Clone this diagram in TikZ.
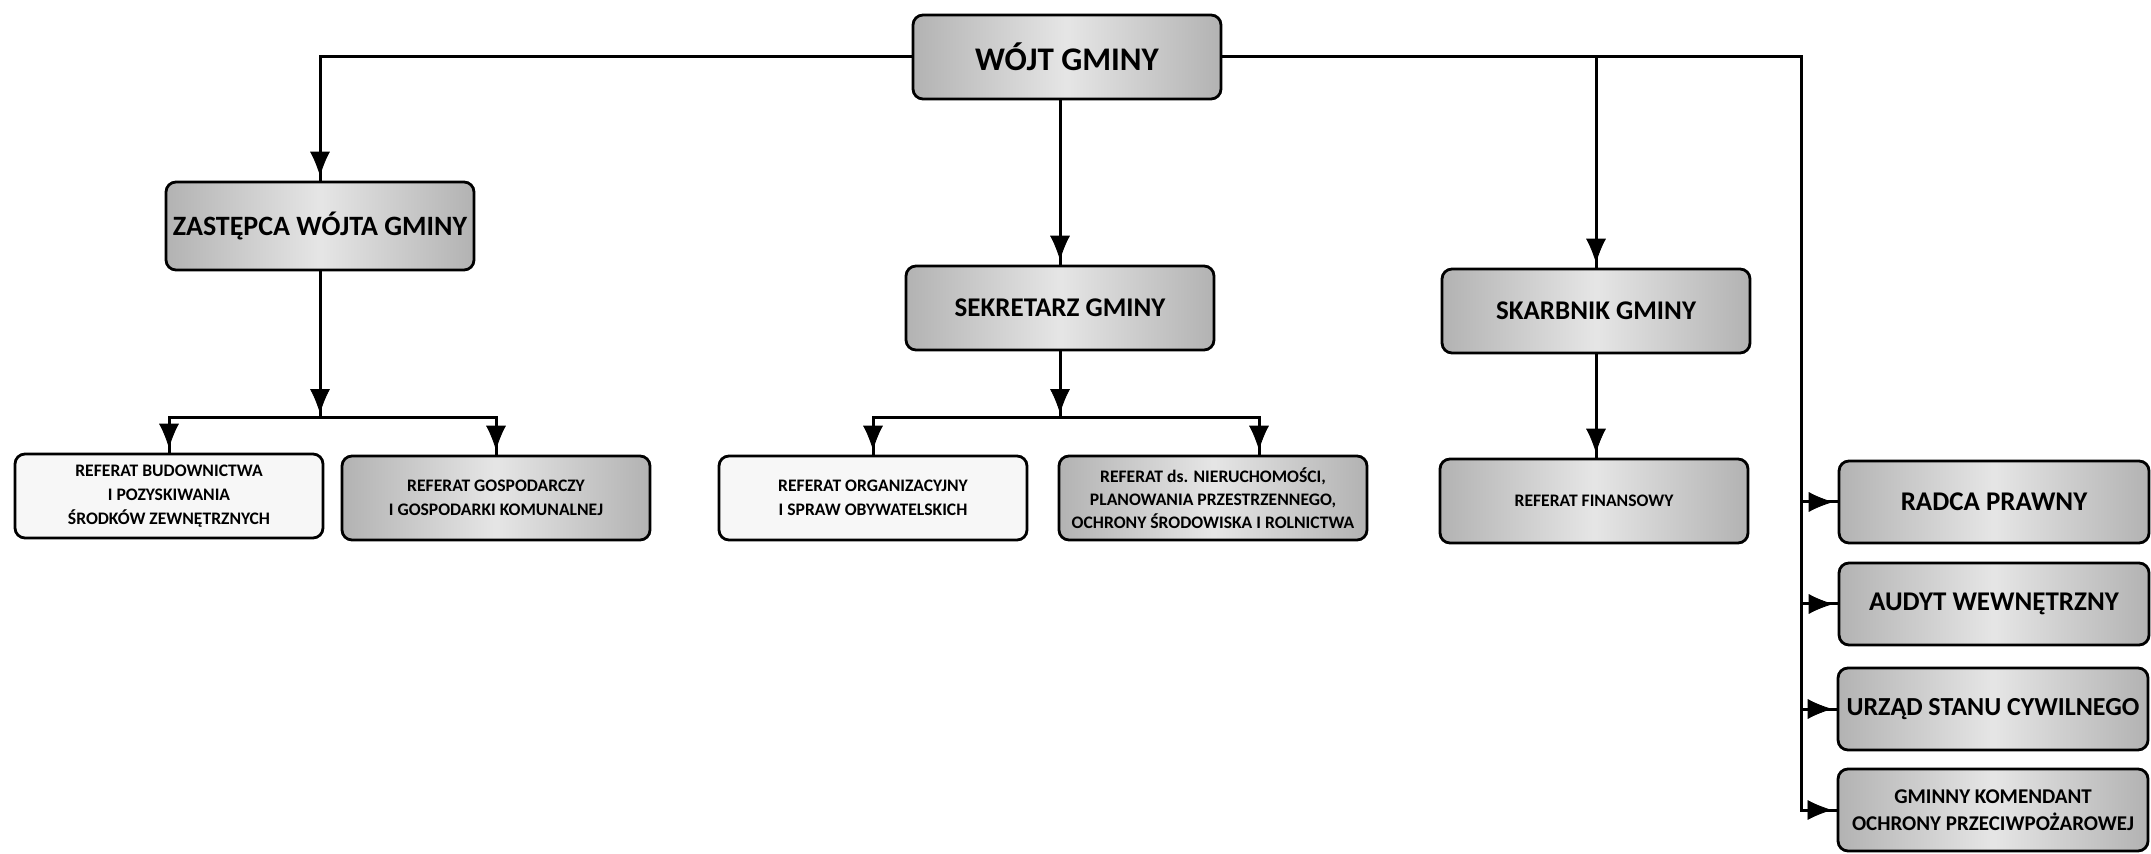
\documentclass[tikz,border=0pt]{standalone}
\usepackage{fontspec}
\setmainfont{Carlito}
\usetikzlibrary{positioning, calc, arrows.meta, decorations.markings}
\tikzstyle{Arrow} = [
line width=1.5pt,
decoration={
markings,
mark=at position 0.9999 with {
\arrow{Latex[length=15pt, width=12pt]}}},
preaction = {decorate}]
\tikzstyle{Box} = [draw, line width=1.4pt, rounded corners=5pt,
minimum width=154pt, minimum height=42pt, align=center, inner sep=1pt]
\tikzstyle{Gray} = [Box, left color=gray!60, right color=gray!60, middle color=gray!20]
\tikzstyle{Light} = [Box, fill=gray!6]
\tikzstyle{Side} = [Gray, minimum width=155pt, minimum height=41pt]
\newcommand{\bigtxt}{\bfseries\fontsize{13.5}{16}\selectfont}
\newcommand{\smalltxt}{\bfseries\fontsize{8.8}{12}\selectfont}

\begin{document}
\begin{tikzpicture}[x=0.5pt, y=-0.5pt]
    \useasboundingbox (0,0) rectangle (2151,854);

    \node [Gray, font=\bfseries\fontsize{16.5}{20}\selectfont] (1) at (1067,57) {WÓJT GMINY};
    \node [Gray, minimum height=44pt, font=\bfseries\fontsize{14}{16}\selectfont] (2) at (320,226) {ZASTĘPCA WÓJTA GMINY};
    \node [Gray, font=\bigtxt] (3) at (1060,308) {SEKRETARZ GMINY};
    \node [Gray, font=\bigtxt] (4) at (1596,311) {SKARBNIK GMINY};

    \node [Light, font=\smalltxt] (5) at (169,496) {REFERAT BUDOWNICTWA\\I POZYSKIWANIA\\ŚRODKÓW ZEWNĘTRZNYCH};
    \node [Gray, font=\smalltxt] (6) at (496,498) {REFERAT GOSPODARCZY\\I GOSPODARKI KOMUNALNEJ};
    \node [Light, font=\smalltxt] (7) at (873,498) {REFERAT ORGANIZACYJNY\\I SPRAW OBYWATELSKICH};
    \node [Gray, font=\bfseries\fontsize{8.8}{11.5}\selectfont] (8) at (1213,498) {REFERAT ds. NIERUCHOMOŚCI,\\PLANOWANIA PRZESTRZENNEGO,\\OCHRONY ŚRODOWISKA I ROLNICTWA};
    \node [Gray, font=\smalltxt] (9) at (1594,501) {REFERAT FINANSOWY};

    \node [Side, font=\bigtxt] (10) at (1994,502) {RADCA PRAWNY};
    \node [Side, font=\bigtxt] (11) at (1994,604) {AUDYT WEWNĘTRZNY};
    \node [Side, inner sep=0pt, font=\bfseries\fontsize{13}{16}\selectfont] (12) at (1993,709) {URZĄD STANU CYWILNEGO};
    \node [Side, font=\bfseries\fontsize{10.5}{13.5}\selectfont] (13) at (1993,810) {GMINNY KOMENDANT\\OCHRONY PRZECIWPOŻAROWEJ};

    \coordinate (14) at (320,418);
    \coordinate (15) at (1060,418);
    \coordinate (16) at (1801,57);

    \draw[Arrow] (1.west) -| (2.north);
    \draw[Arrow] (3.north |- 1.south) -- (3.north);
    \draw[Arrow] (1.east) -- (16) |- (13.west);
    \draw[Arrow] (4.north |- 1.east) -- (4.north);
    \draw[Arrow] (16 |- 10.west) -- (10.west);
    \draw[Arrow] (16 |- 11.west) -- (11.west);
    \draw[Arrow] (16 |- 12.west) -- (12.west);

    \draw[Arrow] (2.south) -- (14);
    \draw[Arrow] (14) -| (5.north);
    \draw[Arrow] (14) -| (6.north);
    \draw[Arrow] (3.south) -- (15);
    \draw[Arrow] (15) -| (7.north);
    \draw[Arrow] (15) -| ([xshift=23pt]8.north);
    \draw[Arrow] (4.south) -- (4.south |- 9.north);
\end{tikzpicture}
\end{document}
